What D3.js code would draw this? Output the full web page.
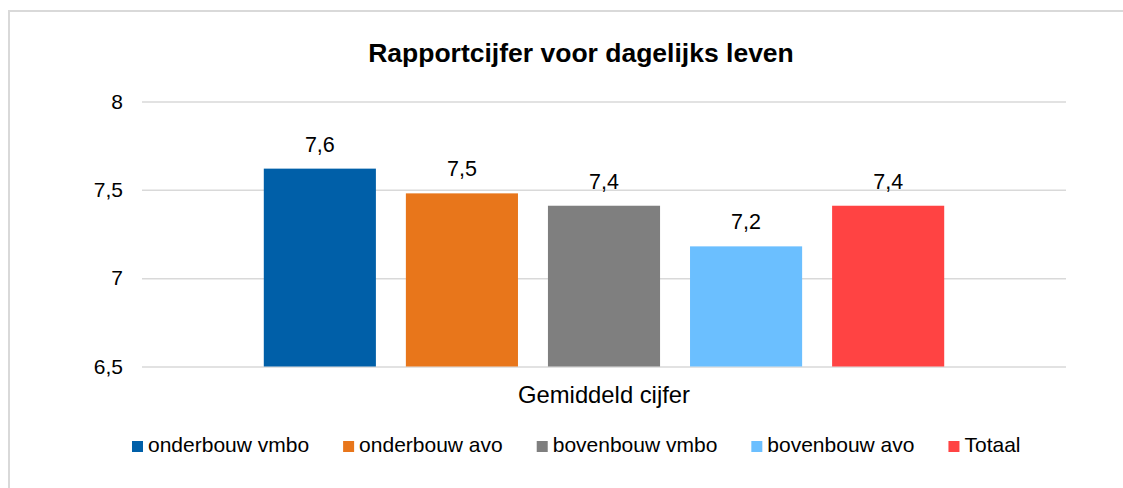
<!DOCTYPE html>
<html>
<head>
<meta charset="utf-8">
<script src="https://d3js.org/d3.v7.min.js"></script>
<style>
body { margin: 0; background: #fff; }
svg { display: block; font-family: "Liberation Sans", Arial, sans-serif; }
.grid line { stroke: #d9d9d9; stroke-width: 1.5px; }
.grid text { font-size: 21px; fill: #000; }
</style>
<title>Rapportcijfer voor dagelijks leven</title>
</head>
<body>
<script>
var categories = ["Gemiddeld cijfer"];
var series = ["onderbouw vmbo", "onderbouw avo", "bovenbouw vmbo", "bovenbouw avo", "Totaal"];
var values = [7.62, 7.48, 7.41, 7.18, 7.41];
var colors = ["#005fa8", "#e8761b", "#7f7f7f", "#6bbfff", "#ff4343"];
var yTicks = [6.5, 7, 7.5, 8];

var width = 1123, height = 488;

var svg = d3.select("body").append("svg")
    .attr("width", width)
    .attr("height", height);

// chart frame (only left and top edges fall inside the picture)
svg.append("path")
    .attr("d", "M9,488V11H1123")
    .style("fill", "none")
    .style("stroke", "#d9d9d9")
    .style("stroke-width", 2);

svg.append("text")
    .attr("x", 581)
    .attr("y", 62)
    .attr("text-anchor", "middle")
    .style("font-size", "26.5px")
    .style("font-weight", "bold")
    .text("Rapportcijfer voor dagelijks leven");

var comma = function(d) { return String(d).replace(".", ","); };

var y = d3.scaleLinear()
    .domain([6.5, 8])
    .range([366.5, 101.5]);

var x0 = d3.scaleBand()
    .domain(categories)
    .range([142, 1066])
    .paddingInner(0)
    .paddingOuter(0.179);

var x1 = d3.scaleBand()
    .domain(series)
    .range([0, x0.bandwidth()])
    .paddingInner(0.211)
    .paddingOuter(0);

var color = d3.scaleOrdinal()
    .domain(series)
    .range(colors);

svg.append("g")
    .attr("class", "grid")
    .attr("transform", "translate(142,0)")
    .call(d3.axisLeft(y)
        .tickValues(yTicks)
        .tickSize(-924)
        .tickPadding(19)
        .tickFormat(comma))
    .call(function(g) { g.select(".domain").remove(); });

var group = svg.selectAll("g.cat")
    .data(categories)
  .enter().append("g")
    .attr("class", "cat")
    .attr("transform", function(d) { return "translate(" + x0(d) + ",0)"; });

var data = series.map(function(s, i) { return { key: s, value: values[i] }; });

group.selectAll("rect")
    .data(data)
  .enter().append("rect")
    .attr("x", function(d) { return x1(d.key); })
    .attr("y", function(d) { return y(d.value); })
    .attr("width", x1.bandwidth())
    .attr("height", function(d) { return y(6.5) - y(d.value); })
    .style("fill", function(d) { return color(d.key); });

group.selectAll("text.val")
    .data(data)
  .enter().append("text")
    .attr("class", "val")
    .attr("x", function(d) { return x1(d.key) + x1.bandwidth() / 2; })
    .attr("y", function(d) { return y(d.value) - 17; })
    .attr("text-anchor", "middle")
    .style("font-size", "21.5px")
    .text(function(d) { return comma(d.value.toFixed(1)); });

svg.selectAll("text.cat")
    .data(categories)
  .enter().append("text")
    .attr("class", "cat")
    .attr("x", function(d) { return x0(d) + x0.bandwidth() / 2; })
    .attr("y", 403)
    .attr("text-anchor", "middle")
    .style("font-size", "23.8px")
    .text(function(d) { return d; });

// legend, laid out from measured text widths
var legend = svg.append("g").attr("class", "legend");
var lx = 132;
series.forEach(function(s) {
  legend.append("rect")
      .attr("x", lx)
      .attr("y", 441)
      .attr("width", 11)
      .attr("height", 11)
      .style("fill", color(s));
  var t = legend.append("text")
      .attr("x", lx + 16)
      .attr("y", 452)
      .style("font-size", "21px")
      .text(s);
  lx += 16 + t.node().getComputedTextLength() + 34;
});
</script>
</body>
</html>
